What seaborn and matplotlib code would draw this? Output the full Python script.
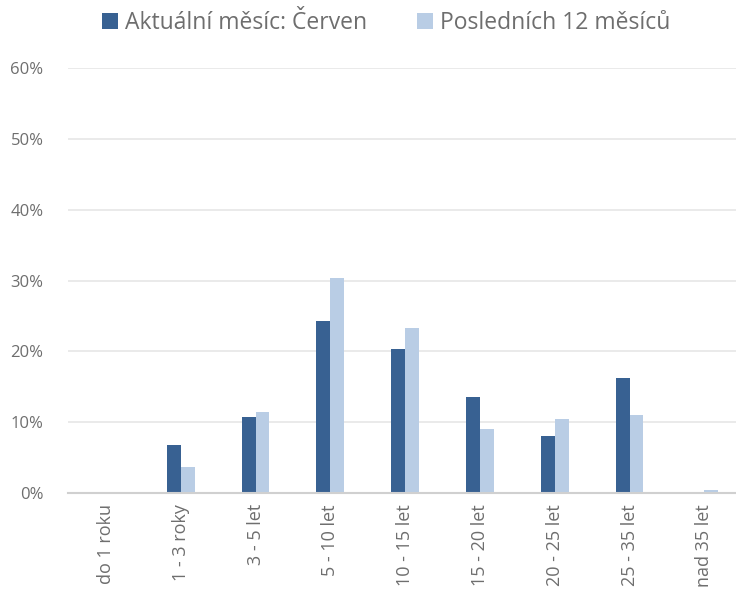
import pandas as pd
import numpy as np
import matplotlib.pyplot as plt
import seaborn as sns
from matplotlib.ticker import PercentFormatter

categories = ["do 1 roku", "1 - 3 roky", "3 - 5 let", "5 - 10 let", "10 - 15 let",
              "15 - 20 let", "20 - 25 let", "25 - 35 let", "nad 35 let"]
current_month = [0.0, 6.8, 10.7, 24.3, 20.3, 13.5, 8.0, 16.2, 0.0]
last_12_months = [0.0, 3.7, 11.4, 30.4, 23.3, 9.1, 10.5, 11.1, 0.4]
series_names = ["Aktuální měsíc: Červen", "Posledních 12 měsíců"]

df = pd.DataFrame({
    "kategorie": categories * 2,
    "hodnota": current_month + last_12_months,
    "serie": [series_names[0]] * len(categories) + [series_names[1]] * len(categories),
})

sns.set_style("white")
plt.rcParams['font.family'] = ['Open Sans', 'DejaVu Sans']

fig = plt.figure(figsize=(7.36, 5.92), dpi=100)
ax = fig.add_axes([0.093, 0.167, 0.915, 0.718])

palette = {series_names[0]: "#386192", series_names[1]: "#B9CDE5"}
sns.barplot(data=df, x="kategorie", y="hodnota", hue="serie", palette=palette,
            width=0.37, gap=0, saturation=1, ax=ax, edgecolor="none", legend=True)

ax.set_ylim(0, 60)
ax.set_yticks(np.arange(0, 61, 10))
ax.yaxis.set_major_formatter(PercentFormatter(decimals=0))
ax.grid(axis="y", color="#E6E6E6", linewidth=1.2)
ax.set_axisbelow(True)
for s in ["top", "right", "left"]:
    ax.spines[s].set_visible(False)
ax.spines["bottom"].set_color("#D0D0D0")
ax.spines["bottom"].set_linewidth(1.5)
ax.set_xlabel("")
ax.set_ylabel("")
ax.tick_params(axis="y", length=0, labelsize=12, labelcolor="#6E6E6E", pad=18)
ax.tick_params(axis="x", length=0, labelsize=13, labelcolor="#6E6E6E", rotation=90, pad=8)

handles, labels = ax.get_legend_handles_labels()
ax.legend(handles, labels, loc="center", bbox_to_anchor=(0.472, 1.105), ncol=2, frameon=False,
          fontsize=16.5, labelcolor="#6E6E6E", handlelength=0.7, handleheight=0.7,
          handletextpad=0.3, columnspacing=2.2)

fig.savefig("out.png", dpi=100)
